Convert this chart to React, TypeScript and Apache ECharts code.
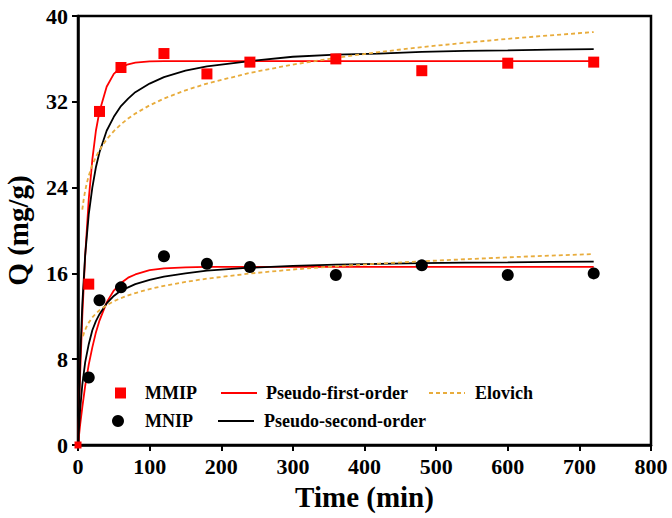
import React, { useEffect, useRef } from "react";
import * as echarts from "echarts";

// Experimental points
const mmipTime = [0, 15, 30, 60, 120, 180, 240, 360, 480, 600, 720];
const mmipQ = [0, 15.0, 31.1, 35.2, 36.5, 34.6, 35.7, 36.0, 34.9, 35.6, 35.7];
const mnipTime = [15, 30, 60, 120, 180, 240, 360, 480, 600, 720];
const mnipQ = [6.3, 13.5, 14.7, 17.6, 16.9, 16.6, 15.85, 16.75, 15.85, 16.0];

// Fitted curves
const fitT = [0, 3, 6, 10, 15, 20, 25, 30, 40, 50, 60, 70, 80, 100, 120, 150, 180, 240, 300, 360, 420, 480, 540, 600, 660, 720];
const mmipPFO = [0, 6.6, 12.0, 17.6, 22.9, 26.6, 29.3, 31.1, 33.4, 34.6, 35.2, 35.5, 35.65, 35.76, 35.79, 35.8, 35.8, 35.8, 35.8, 35.8, 35.8, 35.8, 35.8, 35.8, 35.8, 35.8];
const mmipPSO = [0, 7.9, 13.1, 17.7, 21.5, 24.0, 25.9, 27.3, 29.3, 30.6, 31.6, 32.3, 32.9, 33.7, 34.3, 34.9, 35.3, 35.8, 36.2, 36.4, 36.5, 36.65, 36.74, 36.8, 36.87, 36.92];
const mnipPFO = [0, 1.9, 3.5, 5.5, 7.5, 9.1, 10.5, 11.6, 13.3, 14.4, 15.1, 15.6, 15.9, 16.3, 16.47, 16.56, 16.6, 16.6, 16.6, 16.6, 16.6, 16.6, 16.6, 16.6, 16.6, 16.6];
const mnipPSO = [0, 3.3, 5.6, 7.7, 9.4, 10.7, 11.55, 12.2, 13.2, 13.9, 14.4, 14.7, 15.0, 15.4, 15.7, 16.0, 16.25, 16.53, 16.7, 16.81, 16.89, 16.95, 17.0, 17.03, 17.07, 17.1];

const elovichT1 = [6, 8, 10, 12, 15, 20, 25, 30, 40, 50, 60, 70, 80, 100, 120, 150, 180, 240, 300, 360, 420, 480, 540, 600, 660, 720];
const mmipElovich = [21.94, 22.93, 23.7, 24.33, 25.1, 26.1, 26.87, 27.5, 28.5, 29.27, 29.9, 30.44, 30.9, 31.67, 32.3, 33.07, 33.7, 34.7, 35.47, 36.1, 36.64, 37.1, 37.5, 37.87, 38.2, 38.5];
const elovichT2 = [7, 8, 10, 12, 15, 20, 25, 30, 40, 50, 60, 70, 80, 100, 120, 150, 180, 240, 300, 360, 420, 480, 540, 600, 660, 720];
const mnipElovich = [10.15, 10.38, 10.74, 11.04, 11.41, 11.89, 12.26, 12.56, 13.03, 13.4, 13.7, 13.95, 14.17, 14.54, 14.84, 15.21, 15.51, 15.99, 16.36, 16.66, 16.91, 17.13, 17.32, 17.5, 17.66, 17.8];

const xTicks = { min: 0, max: 800, interval: 100 };
const yTicks = { min: 0, max: 40, interval: 8 };

const FONT = "'Liberation Serif', 'Times New Roman', serif";

const zip = (xs: number[], ys: number[]) => xs.map((x, i) => [x, ys[i]]);

export default function App() {
  const ref = useRef<HTMLDivElement>(null);
  useEffect(() => {
    if (!ref.current) return;
    const chart = echarts.init(ref.current, null, { renderer: "svg" });
    const lineBase = (name: string, data: number[][], color: string, dashed = false) => ({
      name,
      type: "line",
      data,
      symbol: "none",
      showSymbol: false,
      smooth: false,
      lineStyle: { color, width: 1.8, type: dashed ? [4, 3] : "solid" },
      itemStyle: { color },
      z: 2,
    });
    const legendText = (pad: number) => ({
      fontFamily: FONT,
      fontWeight: "bold",
      fontSize: 18,
      color: "#000",
      lineHeight: 20,
      padding: [0, 0, 0, pad],
    });
    const leg = (name: string, left: number, top: number, w: number, h: number, pad: number, isLine: boolean) => ({
      data: [name],
      left,
      top,
      padding: 0,
      itemWidth: w,
      itemHeight: h,
      selectedMode: false,
      textStyle: legendText(pad),
      ...(isLine ? { itemStyle: { opacity: 0 } } : {}),
    });
    chart.setOption({
      animation: false,
      backgroundColor: "#fff",
      grid: {
        left: 78,
        right: 21,
        top: 16,
        bottom: 73,
        show: true,
        borderColor: "#000",
        borderWidth: 2.5,
        backgroundColor: "transparent",
        containLabel: false,
        outerBoundsMode: "none",
      },
      legend: [
        leg("MMIP", 115, 383, 11, 11, 14, false),
        leg("MNIP", 112, 411, 12, 12, 16, false),
        leg("Pseudo-first-order", 220, 383, 36, 12, 4, true),
        leg("Pseudo-second-order", 217, 411, 36, 12, 5, true),
        leg("Elovich", 428, 383, 36, 12, 5, true),
      ],
      xAxis: {
        type: "value",
        min: xTicks.min,
        max: xTicks.max,
        interval: xTicks.interval,
        name: "Time (min)",
        nameLocation: "middle",
        nameGap: 37,
        nameTextStyle: { fontFamily: FONT, fontWeight: "bold", fontSize: 29, color: "#000" },
        axisLine: { lineStyle: { color: "#000", width: 2.5 } },
        axisTick: { show: true, length: 6, lineStyle: { color: "#000", width: 2 } },
        axisLabel: { fontFamily: FONT, fontWeight: "bold", fontSize: 22, color: "#000", margin: 10 },
        splitLine: { show: false },
      },
      yAxis: {
        type: "value",
        min: yTicks.min,
        max: yTicks.max,
        interval: yTicks.interval,
        name: "Q (mg/g)",
        nameLocation: "middle",
        nameGap: 46,
        nameTextStyle: { fontFamily: FONT, fontWeight: "bold", fontSize: 29, color: "#000" },
        axisLine: { lineStyle: { color: "#000", width: 2.5 } },
        axisTick: { show: true, length: 6, lineStyle: { color: "#000", width: 2 } },
        axisLabel: { fontFamily: FONT, fontWeight: "bold", fontSize: 22, color: "#000", margin: 10 },
        splitLine: { show: false },
      },
      series: [
        lineBase("Pseudo-first-order", zip(fitT, mmipPFO), "#ff0000"),
        lineBase("Pseudo-first-order", zip(fitT, mnipPFO), "#ff0000"),
        lineBase("Pseudo-second-order", zip(fitT, mmipPSO), "#000000"),
        lineBase("Pseudo-second-order", zip(fitT, mnipPSO), "#000000"),
        lineBase("Elovich", zip(elovichT1, mmipElovich), "#E8AC3C", true),
        lineBase("Elovich", zip(elovichT2, mnipElovich), "#E8AC3C", true),
        {
          name: "MNIP",
          type: "scatter",
          data: zip(mnipTime, mnipQ),
          symbol: "circle",
          symbolSize: 12,
          itemStyle: { color: "#000000", opacity: 1 },
          clip: false,
          z: 3,
        },
        {
          name: "MMIP",
          type: "scatter",
          data: zip(mmipTime, mmipQ),
          symbol: "rect",
          symbolSize: (v: number[]) => (v[0] === 0 ? 7 : 11),
          itemStyle: { color: "#ff0000", opacity: 1 },
          clip: false,
          z: 4,
        },
      ],
    });
    return () => chart.dispose();
  }, []);
  return <div ref={ref} style={{ width: 672, height: 518, position: "absolute", left: 0, top: 0 }} />;
}
